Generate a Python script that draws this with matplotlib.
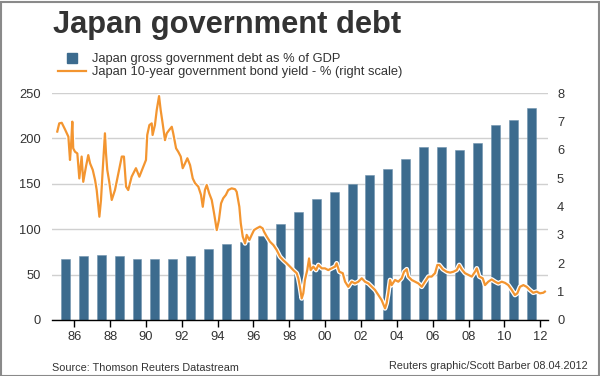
import matplotlib
matplotlib.use("Agg")
import matplotlib.pyplot as plt
import matplotlib.patheffects as pe
from matplotlib.lines import Line2D
from matplotlib.patches import Rectangle

plt.rcParams['font.family'] = ['Liberation Sans', 'DejaVu Sans']

# ---- data ----
debt_years = list(range(1985, 2012))
debt_pct = [67, 70, 72, 70, 67, 67, 67, 71, 78, 84, 86, 93, 106, 119, 133, 141,
            150, 160, 166, 177, 191, 191, 187, 195, 215, 220, 233]

yield_t = [1985.05, 1985.16, 1985.30, 1985.48, 1985.67, 1985.76, 1985.82, 1985.89, 1985.94,
           1986.04, 1986.17, 1986.28, 1986.41, 1986.50, 1986.65, 1986.78, 1986.88,
           1987.03, 1987.16, 1987.25, 1987.40, 1987.49, 1987.58, 1987.71, 1987.77, 1987.84, 1987.95,
           1988.09, 1988.27, 1988.46, 1988.65, 1988.77, 1988.89,
           1989.01, 1989.20, 1989.44, 1989.63, 1989.82,
           1990.00, 1990.07, 1990.19, 1990.32, 1990.37, 1990.50, 1990.60, 1990.73, 1990.82, 1990.93,
           1991.06, 1991.16, 1991.30, 1991.44, 1991.52, 1991.68, 1991.80, 1991.94,
           1992.05, 1992.18, 1992.31, 1992.46, 1992.61, 1992.74, 1992.92,
           1993.07, 1993.17, 1993.29, 1993.39, 1993.53, 1993.67, 1993.80, 1993.95,
           1994.07, 1994.19, 1994.31, 1994.46, 1994.59, 1994.78, 1994.97,
           1995.06, 1995.21, 1995.29, 1995.40, 1995.53, 1995.62, 1995.77, 1995.90,
           1996.03, 1996.18, 1996.36, 1996.51, 1996.59, 1996.74, 1996.92,
           1997.11, 1997.29, 1997.48, 1997.66, 1997.85,
           1998.04, 1998.22, 1998.41, 1998.50, 1998.59, 1998.69, 1998.78, 1998.87,
           1999.00, 1999.10, 1999.19, 1999.34, 1999.49, 1999.62, 1999.81, 1999.99,
           2000.17, 2000.36, 2000.55, 2000.64, 2000.79, 2000.98,
           2001.11, 2001.29, 2001.48, 2001.66, 2001.85,
           2002.04, 2002.22, 2002.41, 2002.60, 2002.78, 2002.97,
           2003.15, 2003.34, 2003.43, 2003.52, 2003.62, 2003.71, 2003.90,
           2004.08, 2004.27, 2004.40, 2004.55, 2004.64, 2004.83,
           2005.01, 2005.20, 2005.39, 2005.57, 2005.76, 2005.94,
           2006.13, 2006.26, 2006.37, 2006.56, 2006.78, 2006.97,
           2007.15, 2007.34, 2007.48, 2007.62, 2007.80, 2007.99,
           2008.18, 2008.36, 2008.46, 2008.60, 2008.79, 2008.92,
           2009.10, 2009.29, 2009.48, 2009.66, 2009.85,
           2010.03, 2010.22, 2010.41, 2010.59, 2010.72, 2010.87,
           2011.06, 2011.24, 2011.42, 2011.61, 2011.80, 2011.98, 2012.17, 2012.26]
yield_pct = [6.64, 6.93, 6.95, 6.72, 6.46, 5.64, 6.17, 6.99, 6.05,
             5.93, 5.87, 4.99, 5.76, 4.87, 5.40, 5.81, 5.52,
             5.29, 4.93, 4.58, 3.64, 4.23, 5.23, 6.58, 5.87, 5.29, 4.87,
             4.23, 4.58, 5.17, 5.76, 5.76, 4.70,
             4.58, 5.05, 5.35, 5.05, 5.35,
             5.64, 6.52, 6.87, 6.93, 6.52, 6.87, 7.40, 7.89, 7.40, 6.93,
             6.34, 6.58, 6.70, 6.81, 6.58, 6.05, 5.93, 5.76,
             5.35, 5.52, 5.70, 5.46, 4.99, 4.82, 4.70,
             4.41, 3.99, 4.58, 4.76, 4.46, 4.23, 3.76, 3.17,
             3.52, 4.11, 4.29, 4.41, 4.58, 4.64, 4.61,
             4.52, 3.99, 3.41, 2.94, 2.70, 3.00, 2.82, 3.00,
             3.17, 3.23, 3.29, 3.23, 3.11, 2.94, 2.76,
             2.64, 2.47, 2.23, 2.11, 2.00,
             1.88, 1.76, 1.65, 1.47, 1.17, 0.76, 0.94, 1.41,
             1.76, 2.17, 1.76, 1.88, 1.76, 1.94, 1.82, 1.82,
             1.76, 1.82, 1.88, 2.00, 1.70, 1.65,
             1.35, 1.17, 1.35, 1.29, 1.35,
             1.47, 1.35, 1.29, 1.17, 1.06, 0.88,
             0.70, 0.41, 0.59, 0.94, 1.41, 1.23, 1.41,
             1.35, 1.47, 1.70, 1.79, 1.53, 1.41,
             1.35, 1.29, 1.17, 1.35, 1.53, 1.53,
             1.65, 1.94, 1.94, 1.79, 1.70, 1.67,
             1.70, 1.76, 1.94, 1.79, 1.65, 1.59,
             1.53, 1.70, 1.82, 1.53, 1.47, 1.23,
             1.35, 1.43, 1.35, 1.29, 1.35,
             1.31, 1.23, 1.06, 0.88, 0.94, 1.17,
             1.23, 1.17, 1.06, 0.96, 1.00, 0.94, 0.96, 1.00]

xtick_years = list(range(1986, 2013, 2))
xtick_labels = ['86', '88', '90', '92', '94', '96', '98', '00', '02', '04', '06', '08', '10', '12']
left_ticks = [0, 50, 100, 150, 200, 250]
right_ticks = [0, 1, 2, 3, 4, 5, 6, 7, 8]

title = 'Japan government debt'
debt_label = 'Japan gross government debt as % of GDP'
yield_label = 'Japan 10-year government bond yield - % (right scale)'
source = 'Source: Thomson Reuters Datastream'
credit = 'Reuters graphic/Scott Barber 08.04.2012'

# ---- style ----
BAR = '#3c6b8e'
ORANGE = '#f39530'
TXT = '#333333'
GRID = '#d0d0d0'

W, H = 600, 376
fig = plt.figure(figsize=(W / 100, H / 100), dpi=100)
fig.patch.set_facecolor('white')

ax = fig.add_axes([52 / W, 1 - 320 / H, (548 - 52) / W, (320 - 93) / H])
ax.set_xlim(1984.756, 2012.434)
ax.set_ylim(0, 250)

bars = ax.bar([y + 0.5 for y in debt_years], debt_pct, width=0.5, color=BAR,
              edgecolor='#6f93ad', linewidth=0.4, zorder=2)

ax.set_yticks(left_ticks)
ax.yaxis.grid(True, color=GRID, linewidth=1, zorder=0)
ax.set_axisbelow(True)
for s in ['top', 'left', 'right']:
    ax.spines[s].set_visible(False)
ax.spines['bottom'].set_color('black')
ax.spines['bottom'].set_linewidth(1.0)
ax.spines['bottom'].set_zorder(5)
ax.tick_params(axis='y', length=0, labelsize=9.3, colors=TXT, pad=8)
ax.set_xticks(xtick_years)
ax.set_xticklabels(xtick_labels)
ax.tick_params(axis='x', length=5, width=1, color='black', labelsize=9.3,
               labelcolor=TXT, pad=3, direction='out')

ax2 = ax.twinx()
ax2.set_ylim(0, 8)
ax2.set_yticks(right_ticks)
for s in ['top', 'left', 'right', 'bottom']:
    ax2.spines[s].set_visible(False)
ax2.tick_params(axis='y', length=0, labelsize=9.3, colors=TXT, pad=6.5)
line, = ax2.plot(yield_t, yield_pct, color=ORANGE, linewidth=1.6, zorder=4,
                 solid_joinstyle='round',
                 path_effects=[pe.Stroke(linewidth=3.4, foreground='white'), pe.Normal()])

# title
fig.text(53 / W, 1 - 32.5 / H, title, fontsize=22.2, fontweight='bold',
         color=TXT, va='baseline', ha='left')

# legend
h1 = Line2D([], [], marker='s', linestyle='none', markersize=7,
            markerfacecolor=BAR, markeredgecolor=BAR)
h2 = Line2D([], [], color=ORANGE, linewidth=1.6)
leg = fig.legend([h1, h2], [debt_label, yield_label], loc='upper left',
                 bbox_to_anchor=(58 / W, 1 - 53 / H), frameon=False,
                 fontsize=9.3, handlelength=2.2, handletextpad=0.45,
                 labelspacing=0.08, borderpad=0, borderaxespad=0)
for t in leg.get_texts():
    t.set_color(TXT)

# footer
fig.text(52 / W, 1 - 368 / H, source, fontsize=7.8, color=TXT, va='center', ha='left')
fig.text(588 / W, 1 - 366 / H, credit, fontsize=7.8, color=TXT, va='center', ha='right')

# border
fig.patches.append(Rectangle((0.5 / W, 0.5 / H), 1 - 2 / W, 1 - 2 / H,
                             transform=fig.transFigure, fill=False,
                             edgecolor='#8a8a8a', linewidth=1.5))

fig.savefig('out.png', dpi=100, facecolor='white')
